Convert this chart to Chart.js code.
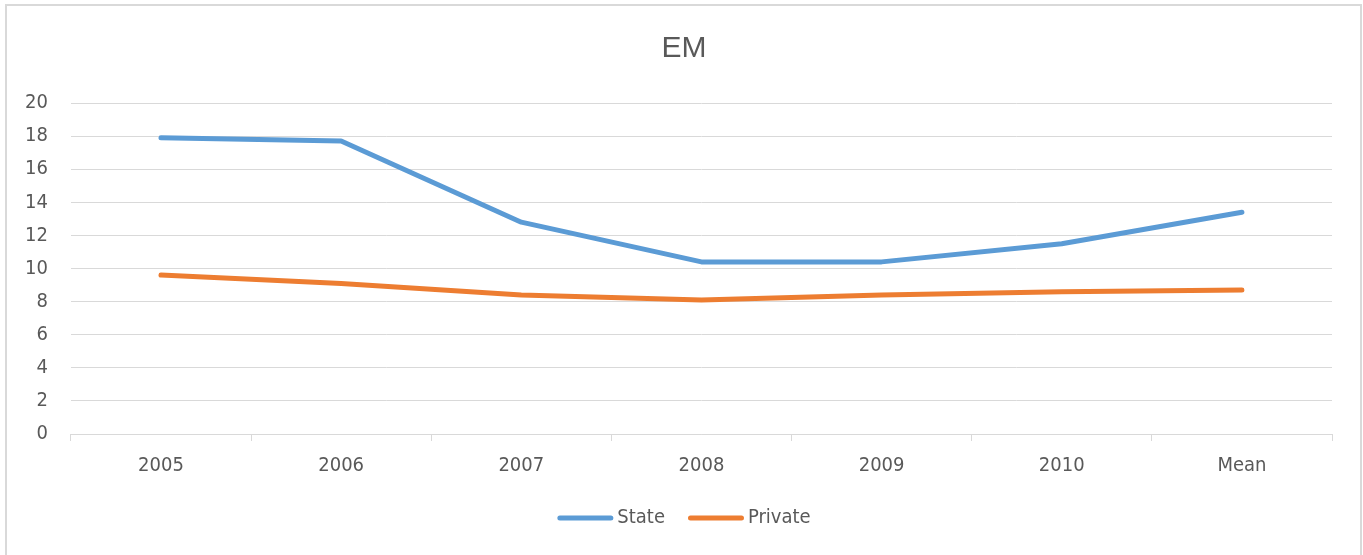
<!DOCTYPE html>
<html>
<head>
<meta charset="utf-8">
<script src="https://cdn.jsdelivr.net/npm/chart.js@4.4.1/dist/chart.umd.min.js"></script>
<style>
html,body{margin:0;padding:0;background:#fff;}
canvas{display:block;}
</style>
</head>
<body>
<canvas id="c" width="1363" height="555"></canvas>
<script>
const categories = ["2005", "2006", "2007", "2008", "2009", "2010", "Mean"];
const stateValues = [17.9, 17.7, 12.8, 10.4, 10.4, 11.5, 13.4];
const privateValues = [9.6, 9.1, 8.4, 8.1, 8.4, 8.6, 8.7];
const yTicks = [0, 2, 4, 6, 8, 10, 12, 14, 16, 18, 20];
const chartTitle = 'EM';

const FONT = "'DejaVu Sans Condensed', 'Liberation Sans', sans-serif";
const TXT = '#595959';
const GRID = '#d9d9d9';

const decorPlugin = {
  id: 'decor',
  afterDraw(chart) {
    const ctx = chart.ctx;
    ctx.save();
    // outer frame
    ctx.strokeStyle = '#d9d9d9';
    ctx.lineWidth = 2;
    ctx.beginPath();
    ctx.moveTo(6, 555); ctx.lineTo(6, 5); ctx.lineTo(1361, 5); ctx.lineTo(1361, 555);
    ctx.stroke();
    // title
    ctx.fillStyle = TXT;
    ctx.font = "30px 'Liberation Sans', sans-serif";
    ctx.textAlign = 'center';
    ctx.textBaseline = 'middle';
    ctx.fillText(chartTitle, 684, 49);
    // legend
    ctx.font = "20px " + FONT;
    const lineW = 56, gapText = 4, gapItem = 23;
    const items = chart.data.datasets.map(ds => ({ label: ds.label, color: ds.borderColor, w: lineW + gapText + ctx.measureText(ds.label).width }));
    const total = items.reduce((s, it) => s + it.w, 0) + gapItem * (items.length - 1);
    let x = 684 - total / 2;
    const y = 518;
    ctx.textAlign = 'left';
    items.forEach(it => {
      ctx.strokeStyle = it.color;
      ctx.lineWidth = 5;
      ctx.lineCap = 'round';
      ctx.beginPath();
      ctx.moveTo(x + 2.5, y); ctx.lineTo(x + lineW - 2.5, y);
      ctx.stroke();
      ctx.fillStyle = TXT;
      ctx.fillText(it.label, x + lineW + gapText, y);
      x += it.w + gapItem;
    });
    ctx.restore();
  }
};

new Chart(document.getElementById('c'), {
  type: 'line',
  data: {
    labels: categories,
    datasets: [
      { label: 'State', data: stateValues, borderColor: '#5b9bd5', backgroundColor: '#5b9bd5',
        borderWidth: 5, pointRadius: 0, tension: 0, borderCapStyle: 'round', borderJoinStyle: 'round' },
      { label: 'Private', data: privateValues, borderColor: '#ed7d31', backgroundColor: '#ed7d31',
        borderWidth: 5, pointRadius: 0, tension: 0, borderCapStyle: 'round', borderJoinStyle: 'round' }
    ]
  },
  options: {
    responsive: false,
    animation: false,
    devicePixelRatio: 1,
    layout: { padding: { left: 2, right: 31, top: 103, bottom: 64 } },
    plugins: {
      title: { display: false },
      legend: { display: false },
      tooltip: { enabled: false }
    },
    scales: {
      x: {
        offset: true,
        grid: { offset: true, drawOnChartArea: false, drawTicks: true, tickLength: 7, color: GRID, lineWidth: 1 },
        border: { display: true, color: GRID, width: 1 },
        ticks: { color: TXT, font: { family: FONT, size: 20 }, padding: 13, maxRotation: 0 }
      },
      y: {
        min: 0, max: 20,
        afterBuildTicks(axis) { axis.ticks = yTicks.map(v => ({ value: v })); },
        grid: { color: GRID, lineWidth: 1, drawTicks: false },
        border: { display: false },
        ticks: { color: TXT, font: { family: FONT, size: 20 }, padding: 23 }
      }
    }
  },
  plugins: [decorPlugin]
});
</script>
</body>
</html>
